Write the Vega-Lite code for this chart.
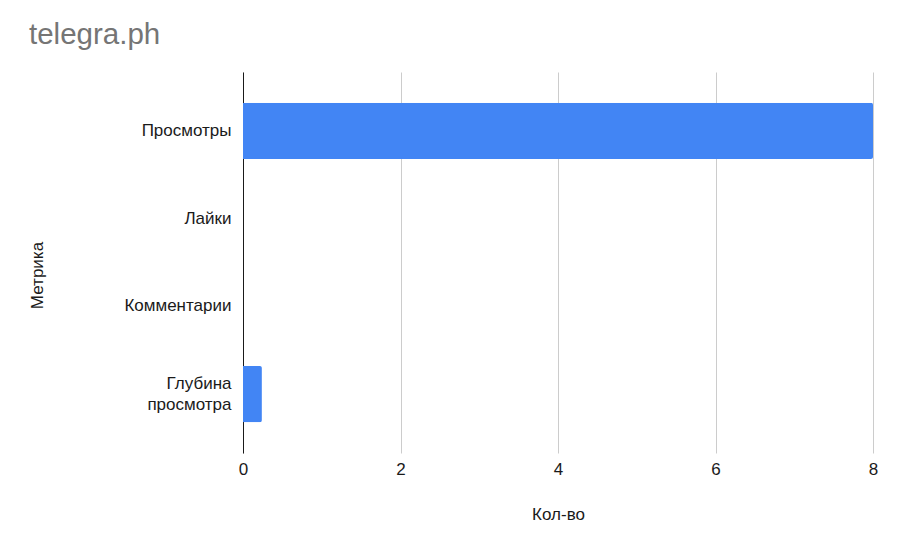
{
  "$schema": "https://vega.github.io/schema/vega-lite/v6.json",
  "autosize": "none",
  "width": 630,
  "height": 381,
  "padding": {"left": 243, "top": 72, "right": 24, "bottom": 99},
  "background": "white",
  "title": {
    "text": "telegra.ph",
    "anchor": "start",
    "frame": "group",
    "dx": -214,
    "offset": 22,
    "fontSize": 29.5,
    "font": "Liberation Sans",
    "fontWeight": "normal",
    "color": "#757575"
  },
  "data": {
    "values": [
      {"metric": "Просмотры", "count": 8},
      {"metric": "Лайки", "count": 0},
      {"metric": "Комментарии", "count": 0},
      {"metric": "Глубина просмотра", "count": 0.24}
    ]
  },
  "mark": {"type": "bar", "color": "#4285F4", "cornerRadiusEnd": 2},
  "encoding": {
    "y": {
      "field": "metric",
      "type": "nominal",
      "sort": null,
      "scale": {"paddingInner": 0.36, "paddingOuter": 0.35},
      "axis": {
        "title": "Метрика",
        "titleFont": "Liberation Sans",
        "titleFontSize": 17,
        "titleFontWeight": "normal",
        "titleColor": "#1a1a1a",
        "titleX": -206,
        "titleY": 203,
        "titleAngle": -90,
        "titleAlign": "center",
        "titleBaseline": "middle",
        "labelFont": "Liberation Sans",
        "labelFontSize": 17,
        "labelColor": "#1a1a1a",
        "labelPadding": 12,
        "labelLineHeight": 21,
        "labelOffset": {"condition": {"test": "datum.value == 'Глубина просмотра'", "value": -10.5}, "value": 0},
        "labelExpr": "datum.label == 'Глубина просмотра' ? ['Глубина', 'просмотра'] : datum.label",
        "ticks": false,
        "domain": true,
        "domainColor": "#1a1a1a",
        "domainWidth": 1
      }
    },
    "x": {
      "field": "count",
      "type": "quantitative",
      "scale": {"domain": [0, 8], "nice": false},
      "axis": {
        "title": "Кол-во",
        "titleFont": "Liberation Sans",
        "titleFontSize": 17,
        "titleFontWeight": "normal",
        "titleColor": "#1a1a1a",
        "titlePadding": 29,
        "values": [0, 2, 4, 6, 8],
        "labelFont": "Liberation Sans",
        "labelFontSize": 17,
        "labelColor": "#1a1a1a",
        "labelPadding": 8,
        "labelFlush": false,
        "ticks": false,
        "domain": false,
        "grid": true,
        "gridColor": "#cccccc",
        "gridWidth": 1
      }
    }
  },
  "config": {"view": {"stroke": null}}
}
